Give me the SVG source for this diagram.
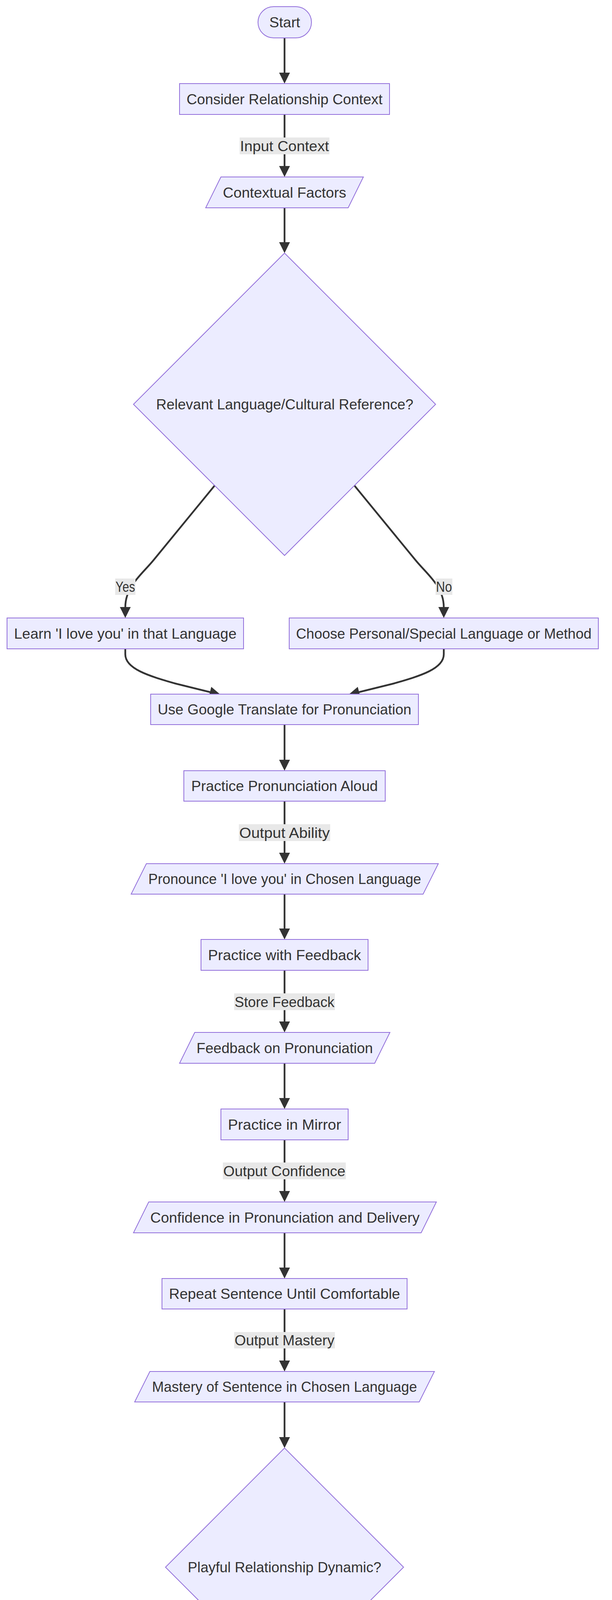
<svg xmlns="http://www.w3.org/2000/svg" width="1568" height="6988" viewBox="0 0 1568 6988">
<style>
.node rect, .node polygon { fill:#ECECFF; stroke:#9370DB; stroke-width:2; }
.edge { fill:none; stroke:#333333; stroke-width:4.5; marker-end:url(#arrow); }
.lbl rect { fill:#e8e8e8; }
text { font-family:"Liberation Sans", Arial, sans-serif; font-size:37px; fill:#333333; text-anchor:middle; }
</style>
<defs>
<marker id="arrow" viewBox="0 0 10 10" refX="0.4" refY="5" markerUnits="userSpaceOnUse" markerWidth="28" markerHeight="28" orient="auto">
<path d="M0,0 L10,5 L0,10 z" fill="#333333"/>
</marker>
</defs>
<rect width="1568" height="6988" fill="#ffffff"/>
<g id="connectors">
<path class="edge" d="M729,97 L729,187"/>
<path class="edge" d="M729,293 L729,426"/>
<path class="edge" d="M729,532 L729,621"/>
<path class="edge" d="M550,1243 L395,1432 C363.5,1471 321,1500 321,1555"/>
<path class="edge" d="M908,1243 L1063,1432 C1094.5,1471 1137,1500 1137,1555"/>
<path class="edge" d="M321,1661 L321,1675 C321,1712 380,1730 450,1750 L539,1772"/>
<path class="edge" d="M1137,1661 L1137,1675 C1137,1712 1078,1730 1008,1750 L919,1772"/>
<path class="edge" d="M729,1855 L729,1946"/>
<path class="edge" d="M729,2051 L729,2184"/>
<path class="edge" d="M729,2289 L729,2378"/>
<path class="edge" d="M729,2484 L729,2616"/>
<path class="edge" d="M729,2722 L729,2812"/>
<path class="edge" d="M729,2918 L729,3050"/>
<path class="edge" d="M729,3156 L729,3246"/>
<path class="edge" d="M729,3351 L729,3484"/>
<path class="edge" d="M729,3589 L729,3680"/>
<path class="edge" d="M604,4192 C541,4271 454,4380 454,4450"/>
<path class="edge" d="M854,4192 C917,4271 1004,4380 1004,4450"/>
<path class="edge" d="M454,4555 L454,4570 C454,4610 490,4635 540,4650 L589,4664"/>
<path class="edge" d="M1004,4555 L1004,4570 C1004,4610 968,4635 918,4650 L869,4664"/>
<path class="edge" d="M729,4751 L729,4884"/>
<path class="edge" d="M729,4989 L729,5078"/>
<path class="edge" d="M729,5184 L729,5316"/>
<path class="edge" d="M729,5422 L729,5512"/>
<path class="edge" d="M729,5618 L729,5751"/>
<path class="edge" d="M729,5856 L729,5945"/>
<path class="edge" d="M625,6358 L505,6514 C490,6534 473.5,6555 473.5,6595"/>
<path class="edge" d="M833,6358 L953,6514 C968,6534 984.5,6555 984.5,6595"/>
<path class="edge" d="M473,6701 L473,6715 C473,6760 515,6782 575,6802 L644.6,6825.3"/>
<path class="edge" d="M985,6701 L985,6715 C985,6760 943,6782 883,6802 L813.4,6825.3"/>
</g>
<g id="edge-labels">
<g class="lbl" id="lbl-input-context"><rect x="614" y="352" width="230" height="43"/><text x="729" y="386.5" textLength="228" lengthAdjust="spacingAndGlyphs">Input Context</text></g>
<g class="lbl" id="lbl-yes-1"><rect x="295" y="1481" width="52" height="42"/><text x="321" y="1515" textLength="50" lengthAdjust="spacingAndGlyphs">Yes</text></g>
<g class="lbl" id="lbl-no-1"><rect x="1116" y="1481" width="43" height="42"/><text x="1137.5" y="1515" textLength="41" lengthAdjust="spacingAndGlyphs">No</text></g>
<g class="lbl" id="lbl-output-ability"><rect x="612" y="2110" width="234" height="43"/><text x="729" y="2144.5" textLength="232" lengthAdjust="spacingAndGlyphs">Output Ability</text></g>
<g class="lbl" id="lbl-store-feedback"><rect x="600" y="2543" width="258" height="43"/><text x="729" y="2577.5" textLength="256" lengthAdjust="spacingAndGlyphs">Store Feedback</text></g>
<g class="lbl" id="lbl-output-confidence"><rect x="571" y="2976" width="315" height="43"/><text x="728.5" y="3010.5" textLength="313" lengthAdjust="spacingAndGlyphs">Output Confidence</text></g>
<g class="lbl" id="lbl-output-mastery"><rect x="600" y="3410" width="258" height="42"/><text x="729" y="3444" textLength="256" lengthAdjust="spacingAndGlyphs">Output Mastery</text></g>
<g class="lbl" id="lbl-yes-2"><rect x="428" y="4377" width="53" height="42"/><text x="454.5" y="4411" textLength="51" lengthAdjust="spacingAndGlyphs">Yes</text></g>
<g class="lbl" id="lbl-no-2"><rect x="982" y="4377" width="44" height="42"/><text x="1004" y="4411" textLength="42" lengthAdjust="spacingAndGlyphs">No</text></g>
<g class="lbl" id="lbl-output-tangible"><rect x="502" y="4810" width="453" height="42"/><text x="728.5" y="4844" textLength="451" lengthAdjust="spacingAndGlyphs">Output Tangible Expression</text></g>
<g class="lbl" id="lbl-output-digital"><rect x="517" y="5243" width="423" height="42"/><text x="728.5" y="5277" textLength="421" lengthAdjust="spacingAndGlyphs">Output Digital Expression</text></g>
<g class="lbl" id="lbl-output-personal"><rect x="502" y="5677" width="454" height="42"/><text x="729" y="5711" textLength="452" lengthAdjust="spacingAndGlyphs">Output Personal Expression</text></g>
<g class="lbl" id="lbl-yes-3"><rect x="447" y="6523" width="53" height="42"/><text x="473.5" y="6557" textLength="51" lengthAdjust="spacingAndGlyphs">Yes</text></g>
<g class="lbl" id="lbl-no-3"><rect x="962" y="6523" width="44" height="42"/><text x="984" y="6557" textLength="42" lengthAdjust="spacingAndGlyphs">No</text></g>
</g>
<g id="nodes">
<g class="node" id="start"><rect x="661" y="17" width="137" height="80" rx="40" ry="40"/><text x="729.5" y="70" textLength="79" lengthAdjust="spacingAndGlyphs">Start</text></g>
<g class="node" id="consider-context"><rect x="460" y="214" width="538" height="79"/><text x="729" y="266.5" textLength="502" lengthAdjust="spacingAndGlyphs">Consider Relationship Context</text></g>
<g class="node" id="contextual-factors"><polygon points="566,453 931,453 892,532 527,532"/><text x="729" y="505.5" textLength="316" lengthAdjust="spacingAndGlyphs">Contextual Factors</text></g>
<g class="node" id="relevant-language"><polygon points="729,648 1116,1035 729,1422 342,1035"/><text x="729.5" y="1048" textLength="659" lengthAdjust="spacingAndGlyphs">Relevant Language/Cultural Reference?</text></g>
<g class="node" id="learn-language"><rect x="18" y="1582" width="606" height="79"/><text x="321" y="1634.5" textLength="570" lengthAdjust="spacingAndGlyphs">Learn 'I love you' in that Language</text></g>
<g class="node" id="choose-personal"><rect x="741" y="1582" width="792" height="79"/><text x="1137" y="1634.5" textLength="757" lengthAdjust="spacingAndGlyphs">Choose Personal/Special Language or Method</text></g>
<g class="node" id="google-translate"><rect x="386" y="1777" width="686" height="78"/><text x="729" y="1829" textLength="650" lengthAdjust="spacingAndGlyphs">Use Google Translate for Pronunciation</text></g>
<g class="node" id="practice-aloud"><rect x="471" y="1973" width="516" height="78"/><text x="729" y="2025" textLength="478" lengthAdjust="spacingAndGlyphs">Practice Pronunciation Aloud</text></g>
<g class="node" id="pronounce"><polygon points="375,2211 1123,2211 1084,2289 336,2289"/><text x="729.5" y="2263" textLength="699" lengthAdjust="spacingAndGlyphs">Pronounce 'I love you' in Chosen Language</text></g>
<g class="node" id="practice-feedback"><rect x="515" y="2405" width="428" height="79"/><text x="729" y="2457.5" textLength="392" lengthAdjust="spacingAndGlyphs">Practice with Feedback</text></g>
<g class="node" id="feedback-pronunciation"><polygon points="499,2643 999,2643 960,2722 460,2722"/><text x="729.5" y="2695.5" textLength="452" lengthAdjust="spacingAndGlyphs">Feedback on Pronunciation</text></g>
<g class="node" id="practice-mirror"><rect x="566" y="2839" width="326" height="79"/><text x="729" y="2891.5" textLength="290" lengthAdjust="spacingAndGlyphs">Practice in Mirror</text></g>
<g class="node" id="confidence"><polygon points="381,3077 1118,3077 1079,3156 342,3156"/><text x="730" y="3129.5" textLength="690" lengthAdjust="spacingAndGlyphs">Confidence in Pronunciation and Delivery</text></g>
<g class="node" id="repeat-sentence"><rect x="415" y="3273" width="628" height="78"/><text x="729" y="3325" textLength="592" lengthAdjust="spacingAndGlyphs">Repeat Sentence Until Comfortable</text></g>
<g class="node" id="mastery"><polygon points="384,3511 1113,3511 1074,3589 345,3589"/><text x="729" y="3563" textLength="679" lengthAdjust="spacingAndGlyphs">Mastery of Sentence in Chosen Language</text></g>
<g class="node" id="playful-dynamic"><polygon points="729,3707 1034,4012 729,4317 424,4012"/><text x="729" y="4025" textLength="496" lengthAdjust="spacingAndGlyphs">Playful Relationship Dynamic?</text></g>
<g class="node" id="be-playful"><rect x="216" y="4477" width="476" height="78"/><text x="454" y="4529" textLength="440" lengthAdjust="spacingAndGlyphs">Be Playful Post-Confession</text></g>
<g class="node" id="proceed-next"><rect x="809" y="4477" width="389" height="78"/><text x="1003.5" y="4529" textLength="353" lengthAdjust="spacingAndGlyphs">Proceed to Next Step</text></g>
<g class="node" id="write-note"><rect x="540" y="4672" width="377" height="79"/><text x="728.5" y="4724.5" textLength="341" lengthAdjust="spacingAndGlyphs">Write a Special Note</text></g>
<g class="node" id="tangible-expression"><polygon points="494,4911 1003,4911 964,4989 455,4989"/><text x="729" y="4963" textLength="460" lengthAdjust="spacingAndGlyphs">Tangible Expression of Love</text></g>
<g class="node" id="send-text"><rect x="461" y="5105" width="536" height="79"/><text x="729" y="5157.5" textLength="500" lengthAdjust="spacingAndGlyphs">Send Thoughtful Text Message</text></g>
<g class="node" id="digital-expression"><polygon points="510,5343 988,5343 949,5422 471,5422"/><text x="729.5" y="5395.5" textLength="429" lengthAdjust="spacingAndGlyphs">Digital Expression of Love</text></g>
<g class="node" id="intimate-moment"><rect x="362" y="5539" width="735" height="79"/><text x="729.5" y="5591.5" textLength="699" lengthAdjust="spacingAndGlyphs">Find Intimate Moment to Express Feelings</text></g>
<g class="node" id="personal-expression"><polygon points="375,5778 1122,5778 1083,5856 336,5856"/><text x="729" y="5830" textLength="698" lengthAdjust="spacingAndGlyphs">Personal and Heartfelt Expression of Love</text></g>
<g class="node" id="pronunciation-perfect"><polygon points="729,5972 974,6217 729,6462 484,6217"/><text x="729" y="6230" textLength="376" lengthAdjust="spacingAndGlyphs">Pronunciation Perfect?</text></g>
<g class="node" id="express-love"><rect x="348" y="6622" width="250" height="79"/><text x="473" y="6674.5" textLength="213" lengthAdjust="spacingAndGlyphs">Express Love</text></g>
<g class="node" id="remember-effort"><rect x="714" y="6622" width="540" height="79"/><text x="984" y="6674.5" textLength="503" lengthAdjust="spacingAndGlyphs">Remember Effort Counts More</text></g>
<g class="node" id="end"><rect x="671" y="6817" width="116" height="79" rx="39.5" ry="39.5"/><text x="729" y="6869.5" textLength="60" lengthAdjust="spacingAndGlyphs">End</text></g>
</g>
</svg>
